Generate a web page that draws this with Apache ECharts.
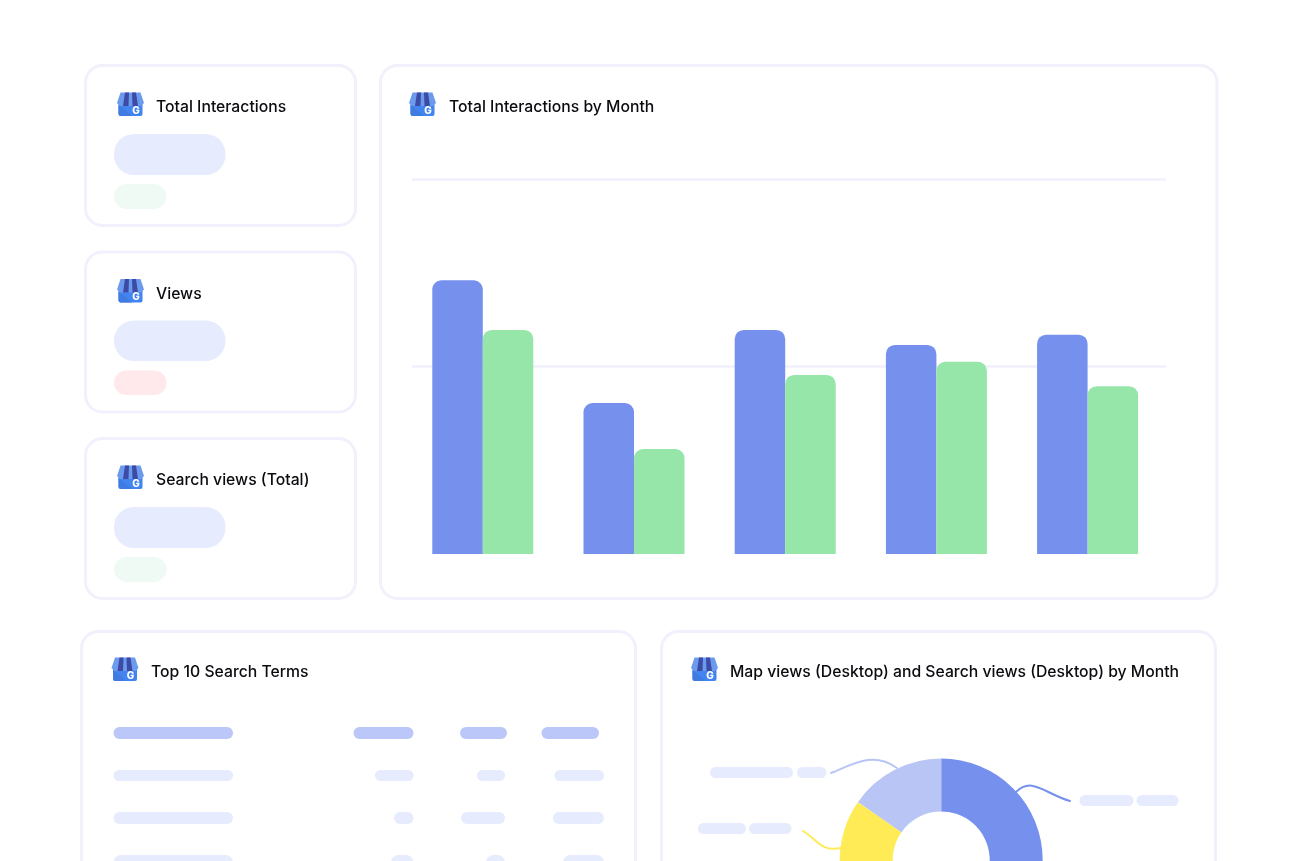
<!DOCTYPE html>
<html><head><meta charset="utf-8">
<style>html,body{margin:0;padding:0;background:#fff;overflow:hidden}#c{width:1313px;height:861px}</style>
<script src="https://cdn.jsdelivr.net/npm/echarts@6/dist/echarts.min.js"></script>
</head><body><div id="c"></div>
<script>
// ---- data ----
const months = ['M1','M2','M3','M4','M5'];
const seriesBlue = [146, 80.5, 119.5, 111.5, 117];
const seriesGreen = [119.5, 56, 95.5, 102.5, 89.5];
const donutNames = ['Desktop A','Desktop B','Desktop C'];
const donutValues = [55, 29.7, 15.3];
const cardTitles = ['Total Interactions','Views','Search views (Total)','Total Interactions by Month','Top 10 Search Terms','Map views (Desktop) and Search views (Desktop) by Month'];

// ---- page furniture ----
const BORDER='#F1F1FE', BLUE='#7690EE', GREEN='#96E6A9', LIGHT='#B9C6F5', YELLOW='#FFEB55', PALE='#E6ECFD', HEAD='#BAC7F8';
const g=[];
function card(x,y,w,h){g.push({type:'rect',silent:true,z:1,shape:{x,y,width:w,height:h,r:17},style:{fill:'#fff',stroke:BORDER,lineWidth:3}});}
function pill(x1,y1,x2,y2,fill){g.push({type:'rect',silent:true,z:2,shape:{x:x1,y:y1,width:x2-x1,height:y2-y1,r:Math.min(20,(y2-y1)/2)},style:{fill}});}
function icon(x,y){
  const add=(o)=>g.push(Object.assign({silent:true,z:3},o));
  add({type:'rect',shape:{x:x+1.5,y:y+8,width:24,height:16,r:[0,0,2,2]},style:{fill:'#4285F0'}});
  add({type:'polygon',shape:{points:[[x+1.5,y+13],[x+15,y+24],[x+3,y+24],[x+1.5,y+22]]},style:{fill:'#3F7BE0'}});
  add({type:'polygon',shape:{points:[[x+3.5,y+0.5],[x+23.5,y+0.5],[x+27,y+11],[x+24,y+14],[x+3,y+14],[x,y+11]]},style:{fill:'#6C9BEE'}});
  add({type:'polygon',shape:{points:[[x+8,y+0.5],[x+12,y+0.5],[x+11.5,y+14],[x+6,y+14]]},style:{fill:'#3C4BA6'}});
  add({type:'polygon',shape:{points:[[x+15,y+0.5],[x+19,y+0.5],[x+21,y+14],[x+15.5,y+14]]},style:{fill:'#3C4BA6'}});
  add({type:'text',style:{x:x+19,y:y+18.5,text:'G',fill:'#fff',font:'800 10px Inter',align:'center',verticalAlign:'middle'}});
}
function title(x,y,t){g.push({type:'text',silent:true,z:3,style:{x,y,text:t,fill:'#0b0b10',font:'500 15.75px Inter',align:'left',verticalAlign:'middle'}});}
function curve(p,stroke){g.push({type:'bezierCurve',silent:true,z:4,shape:{x1:p[0],y1:p[1],cpx1:p[2],cpy1:p[3],cpx2:p[4],cpy2:p[5],x2:p[6],y2:p[7]},style:{stroke,lineWidth:2,fill:'none',lineCap:'round'}});}

card(85.5,65.5,270,160); card(85.5,252,270,160); card(85.5,438.5,270,160);
card(380.5,65.5,836.5,533); card(81.5,631.5,554,260); card(661.5,631.5,554,260);
icon(117,92); icon(117,278.5); icon(117,465); icon(409,92); icon(111.5,657); icon(691,657);
title(156,107.5,cardTitles[0]); title(156,294.5,cardTitles[1]); title(156,480.5,cardTitles[2]);
title(449,107.5,cardTitles[3]); title(151,672.5,cardTitles[4]); title(730,672.5,cardTitles[5]);

pill(114,134,225.5,175,PALE); pill(114,184,166.5,209,'#F0FAF4');
pill(114,320.5,225.5,361,PALE); pill(114,370.5,166.5,395,'#FFE9EB');
pill(114,507,225.5,548,PALE); pill(114,557,166.5,582,'#F0FAF4');

[[113.5,233],[353.5,413.5],[460,507],[541.5,599]].forEach(a=>pill(a[0],727,a[1],739,HEAD));
[[113.5,233],[375,413.5],[477,505],[554.5,604]].forEach(a=>pill(a[0],770,a[1],781,PALE));
[[113.5,233],[394,413.5],[461,505],[553,604]].forEach(a=>pill(a[0],812,a[1],824,PALE));
[[113.5,233],[391,413.5],[486,505],[563,604]].forEach(a=>pill(a[0],855,a[1],870,PALE));

pill(710,767,793,778,PALE); pill(797,767,826.5,778,PALE);
pill(698,823,746,834,PALE); pill(749,823,791.5,834,PALE);
pill(1079.5,795,1133.5,806,PALE); pill(1136.5,795,1178.5,806,PALE);
curve([831,773, 850,766, 872,750, 897,768],LIGHT);
curve([1016,792, 1032,776, 1045,794, 1070,801],BLUE);
curve([803,831, 818,840, 820,852, 841,848],YELLOW);

// ---- chart ----
const chart=echarts.init(document.getElementById('c'),null,{renderer:'canvas'});
chart.setOption({
  animation:false,
  graphic:{elements:g},
  grid:[
    {left:412,top:179,width:754,height:375,containLabel:false,z:5},
    {left:407.2,top:179,width:756,height:375,containLabel:false,z:6}
  ],
  xAxis:[
    {type:'category',gridIndex:0,data:months,show:false},
    {type:'category',gridIndex:1,data:months,axisLine:{show:false},axisTick:{show:false},axisLabel:{show:false}}
  ],
  yAxis:[
    {type:'value',gridIndex:0,min:0,max:200,interval:100,z:5,axisLine:{show:false},axisTick:{show:false},axisLabel:{show:false},
     splitLine:{show:true,showMinLine:false,lineStyle:{color:BORDER,width:2.5}}},
    {type:'value',gridIndex:1,min:0,max:200,interval:100,axisLine:{show:false},axisTick:{show:false},axisLabel:{show:false},splitLine:{show:false}}
  ],
  series:[
    {type:'bar',name:'Blue',xAxisIndex:1,yAxisIndex:1,z:6,data:seriesBlue,barWidth:50.5,barGap:0,itemStyle:{color:BLUE,borderRadius:[9,9,0,0]}},
    {type:'bar',name:'Green',xAxisIndex:1,yAxisIndex:1,z:6,data:seriesGreen,barWidth:50.5,barGap:0,itemStyle:{color:GREEN,borderRadius:[9,9,0,0]}},
    {type:'pie',z:6,center:[941.2,860],radius:[48.5,101.5],startAngle:90,clockwise:true,silent:true,label:{show:false},labelLine:{show:false},
     data:donutNames.map((n,i)=>({name:n,value:donutValues[i],itemStyle:{color:[BLUE,YELLOW,LIGHT][i]}}))}
  ]
});
</script></body></html>
